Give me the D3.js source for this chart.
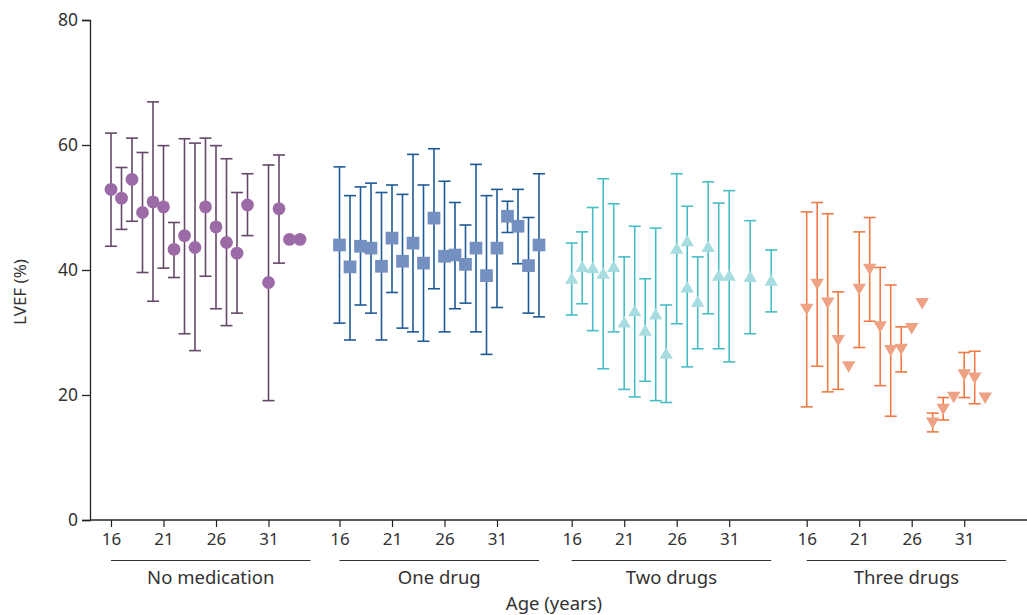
<!DOCTYPE html>
<html>
<head>
<meta charset="utf-8">
<script src="https://cdn.jsdelivr.net/npm/d3@7"></script>
<style>
  html, body { margin: 0; padding: 0; background: #fff; }
  svg { display: block; font-family: "Noto Sans", "Open Sans", sans-serif; }
</style>
</head>
<body>
<svg id="chart" width="1027" height="615"></svg>
<script>
// ---------- data ----------
const groups = ["No medication", "One drug", "Two drugs", "Three drugs"];
const ageTicks = [16, 21, 26, 31];
const yTicks = [0, 20, 40, 60, 80];

const noMedAges  = [16,17,18,19,20,21,22,23,24,25,26,27,28,29,31,32,33,34];
const noMedMean  = [52.9,51.5,54.5,49.2,50.9,50.1,43.3,45.5,43.6,50.1,46.9,44.4,42.7,50.4,38.0,49.8,44.9,44.9];
const noMedUpper = [61.9,56.4,61.1,58.8,66.9,59.9,47.6,61.0,60.3,61.1,59.9,57.8,52.4,55.4,56.8,58.4,null,null];
const noMedLower = [43.8,46.5,47.8,39.6,35.0,40.3,38.8,29.8,27.1,39.0,33.8,31.1,33.1,45.5,19.1,41.1,null,null];

const oneAges  = [16,17,18,19,20,21,22,23,24,25,26,27,28,29,30,31,32,33,34,35];
const oneMean  = [44.0,40.5,43.8,43.5,40.6,45.1,41.4,44.3,41.1,48.3,42.2,42.4,40.9,43.5,39.1,43.5,48.6,47.0,40.7,44.0];
const oneUpper = [56.5,51.9,53.3,53.9,52.4,53.6,52.1,58.5,53.6,59.4,54.2,50.8,47.2,56.9,51.9,52.9,51.0,52.9,48.4,55.4];
const oneLower = [31.5,28.8,34.4,33.1,28.8,36.4,30.7,30.1,28.6,37.0,30.1,33.8,34.7,30.1,26.5,34.0,46.0,41.0,33.1,32.5];

const twoAges  = [16,17,18,19,20,21,22,23,24,25,26,27,27,28,29,30,31,33,35];
const twoMean  = [38.4,40.3,40.1,39.2,40.3,31.4,33.2,30.1,32.7,26.4,43.2,44.4,37.0,34.7,43.5,38.9,38.9,38.7,38.1];
const twoUpper = [44.3,46.1,50.0,54.6,50.6,42.1,47.0,38.6,46.7,34.4,55.4,50.2,null,42.1,54.1,50.7,52.7,47.9,43.2];
const twoLower = [32.8,34.6,30.3,24.2,30.1,20.9,19.7,22.2,19.1,18.8,31.4,24.5,null,27.4,33.0,27.4,25.3,29.8,33.3];

const threeAges  = [16,17,18,19,20,21,22,23,24,25,26,27,28,29,30,31,32,33];
const threeMean  = [34.0,38.0,35.0,29.0,24.8,37.2,40.4,31.2,27.4,27.6,30.9,34.9,15.8,18.0,19.9,23.5,23.0,19.8];
const threeUpper = [49.3,50.8,49.0,36.5,null,46.1,48.4,40.4,37.6,30.9,null,null,17.1,19.6,null,26.8,27.0,null];
const threeLower = [18.1,24.6,20.5,20.9,null,27.6,31.8,21.5,16.6,23.7,null,null,14.1,16.0,null,19.6,18.6,null];

// ---------- styles ----------
const styles = [
  { symbol: d3.symbolCircle,   size: 128, rot: 0,   fill: "#9c6ba7", bar: "#654769" },
  { symbol: d3.symbolSquare,   size: 162, rot: 0,   fill: "#7490c1", bar: "#1f5b97" },
  { symbol: d3.symbolTriangle, size: 78,  rot: 0,   fill: "#a7dde0", bar: "#48bdc5" },
  { symbol: d3.symbolTriangle, size: 78,  rot: 180, fill: "#eea283", bar: "#ef7a45" }
];

const series = [
  [noMedAges, noMedMean, noMedUpper, noMedLower],
  [oneAges, oneMean, oneUpper, oneLower],
  [twoAges, twoMean, twoUpper, twoLower],
  [threeAges, threeMean, threeUpper, threeLower]
].map(([ages, mean, up, lo], gi) => ages.map((a, i) => ({
  group: groups[gi], age: a, mean: mean[i], upper: up[i], lower: lo[i]
})));

// ---------- layout ----------
const svg = d3.select("#chart");
const y = d3.scaleLinear().domain([0, 80]).range([520, 20]);
const groupStart = d3.scaleOrdinal().domain(groups).range([111, 339.5, 571.7, 806.7]);
const ageScale = d3.scaleLinear().domain([16, 31]).range([0, 157.5]);
const xPos = (g, a) => groupStart(g) + ageScale(a);
const axisColor = "#222";
const textColor = "#333";

// y axis
const yAxis = svg.append("g").attr("transform", "translate(90,0)")
  .call(d3.axisLeft(y).tickValues(yTicks).tickSize(8).tickPadding(4).tickFormat(d3.format("d")));
yAxis.select(".domain").attr("stroke", axisColor).attr("stroke-width", 1.3);
yAxis.selectAll(".tick line").attr("stroke", axisColor).attr("stroke-width", 1.3);
yAxis.selectAll(".tick text").attr("font-size", 17.5).attr("fill", textColor)
  .attr("font-family", "Noto Sans");

// x axis baseline
svg.append("line").attr("x1", 90).attr("x2", 1027).attr("y1", y(0)).attr("y2", y(0))
  .attr("stroke", axisColor).attr("stroke-width", 1.3);

// per-group ticks, underlines, labels
groups.forEach(g => {
  const gx = d3.scaleLinear().domain([16, 31]).range([xPos(g, 16), xPos(g, 31)]);
  const ax = svg.append("g").attr("transform", `translate(0,${y(0)})`)
    .call(d3.axisBottom(gx).tickValues(ageTicks).tickSize(7).tickPadding(6).tickFormat(d3.format("d")));
  ax.select(".domain").remove();
  ax.selectAll(".tick line").attr("stroke", axisColor).attr("stroke-width", 1.2);
  ax.selectAll(".tick text").attr("font-size", 17).attr("fill", textColor).attr("font-family", "Noto Sans");

  svg.append("line")
    .attr("x1", xPos(g, 16)).attr("x2", xPos(g, 35))
    .attr("y1", 560.5).attr("y2", 560.5)
    .attr("stroke", "#333").attr("stroke-width", 1.2);
  svg.append("text")
    .attr("x", (xPos(g, 16) + xPos(g, 35)) / 2).attr("y", 584)
    .attr("text-anchor", "middle").attr("font-size", 18.5).attr("fill", textColor)
    .text(g);
});

svg.append("text").attr("x", 554).attr("y", 610).attr("text-anchor", "middle")
  .attr("font-size", 18.5).attr("fill", textColor).text("Age (years)");
svg.append("text").attr("transform", "translate(26,292) rotate(-90)")
  .attr("text-anchor", "middle").attr("font-size", 17).attr("fill", textColor).text("LVEF (%)");

// marks
const cap = 6;
series.forEach((data, gi) => {
  const st = styles[gi];
  const g = svg.append("g");
  const withErr = data.filter(d => d.upper != null && d.lower != null);
  const bars = g.selectAll(".err").data(withErr).join("g").attr("class", "err")
    .attr("stroke", st.bar).attr("stroke-width", 1.6).attr("fill", "none");
  bars.append("line")
    .attr("x1", d => xPos(d.group, d.age)).attr("x2", d => xPos(d.group, d.age))
    .attr("y1", d => y(d.upper)).attr("y2", d => y(d.lower));
  bars.append("line")
    .attr("x1", d => xPos(d.group, d.age) - cap).attr("x2", d => xPos(d.group, d.age) + cap)
    .attr("y1", d => y(d.upper)).attr("y2", d => y(d.upper));
  bars.append("line")
    .attr("x1", d => xPos(d.group, d.age) - cap).attr("x2", d => xPos(d.group, d.age) + cap)
    .attr("y1", d => y(d.lower)).attr("y2", d => y(d.lower));

  const sym = d3.symbol().type(st.symbol).size(st.size);
  g.selectAll(".pt").data(data).join("path").attr("class", "pt")
    .attr("d", sym)
    .attr("transform", d => `translate(${xPos(d.group, d.age)},${y(d.mean)}) rotate(${st.rot})`)
    .attr("fill", st.fill);
});
</script>
</body>
</html>
